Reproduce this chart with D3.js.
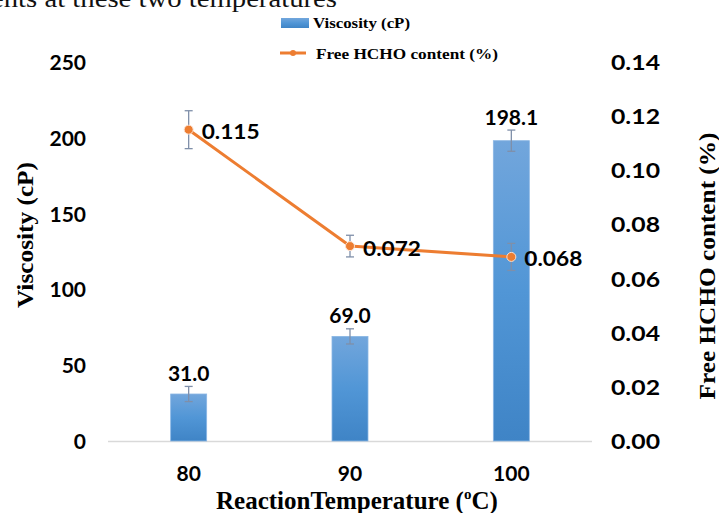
<!DOCTYPE html>
<html>
<head>
<meta charset="utf-8">
<script src="https://cdn.jsdelivr.net/npm/d3@7"></script>
<style>
  html, body { margin: 0; padding: 0; background: #fff; }
  svg { display: block; }
</style>
</head>
<body>
<svg id="chart" width="719" height="513"></svg>
<script>
// ---- data ----
const categories = ["80", "90", "100"];
const viscosity = [31.0, 69.0, 198.1];
const viscosityErr = [5, 5, 7];
const hcho = [0.115, 0.072, 0.068];
const hchoErr = [0.007, 0.004, 0.005];
const leftTicks = [0, 50, 100, 150, 200, 250];
const rightTicks = [0, 0.02, 0.04, 0.06, 0.08, 0.10, 0.12, 0.14];
const seriesNames = ["Viscosity (cP)", "Free HCHO content (%)"];

const svg = d3.select("#chart");
const numFont = "Lato, 'Open Sans', sans-serif";
const serif = "'Liberation Serif', 'DejaVu Serif', serif";

// cropped caption text at top
svg.append("text").attr("x", -9).attr("y", 7)
  .attr("font-family", serif).attr("font-size", 25)
  .attr("textLength", 346).attr("lengthAdjust", "spacingAndGlyphs")
  .attr("fill", "#111").text("ents at these two temperatures");

// gradient
const defs = svg.append("defs");
const grad = defs.append("linearGradient").attr("id", "barGrad")
  .attr("x1", 0).attr("y1", 0).attr("x2", 0).attr("y2", 1);
grad.append("stop").attr("offset", "0%").attr("stop-color", "#72a6dc");
grad.append("stop").attr("offset", "50%").attr("stop-color", "#5196d6");
grad.append("stop").attr("offset", "100%").attr("stop-color", "#3f84c6");

// scales
const x = d3.scaleBand().domain(categories).range([108, 592]).padding(0);
const cx = d => x(d) + x.bandwidth() / 2;
const yL = d3.scaleLinear().domain([0, 250]).range([441, 62]);
const yR = d3.scaleLinear().domain([0, 0.14]).range([441, 62]);
const barW = 36;

// baseline
svg.append("line").attr("x1", 108).attr("x2", 592)
  .attr("y1", yL(0) + 0.5).attr("y2", yL(0) + 0.5)
  .attr("stroke", "#d9d9d9").attr("stroke-width", 1.5);

// left axis
const gL = svg.append("g").attr("transform", "translate(86,0)")
  .call(d3.axisLeft(yL).tickValues(leftTicks).tickSize(0).tickPadding(0).tickFormat(d3.format("d")));
gL.select(".domain").remove();
gL.selectAll("text").attr("font-family", numFont).attr("font-weight", 700)
  .attr("font-size", 21).attr("fill", "#000").attr("dy", "0.36em");

// right axis
const gR = svg.append("g").attr("transform", "translate(611,0)")
  .call(d3.axisRight(yR).tickValues(rightTicks).tickSize(0).tickPadding(0).tickFormat(d3.format(".2f")));
gR.select(".domain").remove();
gR.selectAll("text").attr("font-family", numFont).attr("font-weight", 700)
  .attr("font-size", 21).attr("fill", "#000").attr("dy", "0.36em")
  .attr("textLength", 49).attr("lengthAdjust", "spacingAndGlyphs");

// x axis labels
const gX = svg.append("g").attr("transform", "translate(0,466)")
  .call(d3.axisBottom(x).tickSize(0).tickPadding(0));
gX.select(".domain").remove();
gX.selectAll("text").attr("font-family", numFont).attr("font-weight", 700)
  .attr("font-size", 21).attr("fill", "#000").attr("dy", "0.71em");

// bars
svg.selectAll("rect.bar").data(viscosity).join("rect").attr("class", "bar")
  .attr("x", (d, i) => cx(categories[i]) - barW / 2)
  .attr("y", d => yL(d))
  .attr("width", barW)
  .attr("height", d => yL(0) - yL(d))
  .attr("fill", "url(#barGrad)")
  .attr("stroke", "#8ab6e4").attr("stroke-width", 0.8);

// error bars
const errColor = "#7f8fa9";
function errBar(g, xc, y1, y2) {
  g.append("line").attr("x1", xc).attr("x2", xc).attr("y1", y1).attr("y2", y2)
    .attr("stroke", errColor).attr("stroke-width", 1.3);
  [y1, y2].forEach(yy => g.append("line").attr("x1", xc - 4).attr("x2", xc + 4)
    .attr("y1", yy).attr("y2", yy).attr("stroke", errColor).attr("stroke-width", 1.3));
}
const gErr = svg.append("g");
viscosity.forEach((v, i) => {
  errBar(gErr, cx(categories[i]), yL(v + viscosityErr[i]), yL(v - viscosityErr[i]));
});

// bar labels
svg.selectAll("text.blabel").data(viscosity).join("text").attr("class", "blabel")
  .attr("x", (d, i) => cx(categories[i]))
  .attr("y", (d, i) => yL(d + viscosityErr[i]) - 13)
  .attr("text-anchor", "middle")
  .attr("font-family", numFont).attr("font-weight", 700).attr("font-size", 21)
  .attr("fill", "#000").attr("dy", "0.36em")
  .text(d => d3.format(".1f")(d));

// line
const orange = "#ed7d31";
const line = d3.line().x((d, i) => cx(categories[i])).y(d => yR(d));
svg.append("path").datum(hcho).attr("d", line)
  .attr("fill", "none").attr("stroke", orange).attr("stroke-width", 3)
  .attr("stroke-linejoin", "round");

// line error bars
const gErr2 = svg.append("g");
hcho.forEach((v, i) => {
  errBar(gErr2, cx(categories[i]), yR(v + hchoErr[i]), yR(v - hchoErr[i]));
});

// markers
svg.selectAll("circle.pt").data(hcho).join("circle").attr("class", "pt")
  .attr("cx", (d, i) => cx(categories[i])).attr("cy", d => yR(d)).attr("r", 4.5)
  .attr("fill", orange).attr("stroke", "#fbe0cf").attr("stroke-width", 1);

// line labels
svg.selectAll("text.llabel").data(hcho).join("text").attr("class", "llabel")
  .attr("x", (d, i) => cx(categories[i]) + 13)
  .attr("y", (d, i) => yR(d) + 2)
  .attr("font-family", numFont).attr("font-weight", 700).attr("font-size", 21)
  .attr("fill", "#000").attr("dy", "0.36em")
  .attr("textLength", 58).attr("lengthAdjust", "spacingAndGlyphs")
  .text(d => d3.format(".3f")(d));

// axis titles
svg.append("text").attr("transform", "translate(33,235) rotate(-90)")
  .attr("text-anchor", "middle").attr("font-family", serif).attr("font-weight", 700)
  .attr("font-size", 24).attr("fill", "#000")
  .attr("textLength", 146).attr("lengthAdjust", "spacingAndGlyphs")
  .text("Viscosity (cP)");

svg.append("text").attr("transform", "translate(715,266) rotate(-90)")
  .attr("text-anchor", "middle").attr("font-family", serif).attr("font-weight", 700)
  .attr("font-size", 24).attr("fill", "#000")
  .attr("textLength", 267).attr("lengthAdjust", "spacingAndGlyphs")
  .text("Free HCHO content (%)");

const xt = svg.append("text").attr("x", 216).attr("y", 509)
  .attr("font-family", serif).attr("font-weight", 700)
  .attr("font-size", 25).attr("fill", "#000");
xt.append("tspan").text("ReactionTemperature (");
xt.append("tspan").attr("font-size", 15).attr("dy", -10).text("o");
xt.append("tspan").attr("dy", 10).text("C)");

// legend
svg.append("rect").attr("x", 281).attr("y", 18).attr("width", 28).attr("height", 10)
  .attr("fill", "url(#barGrad)");
svg.append("text").attr("x", 313).attr("y", 28)
  .attr("font-family", serif).attr("font-weight", 700).attr("font-size", 15)
  .attr("fill", "#000").attr("textLength", 97).attr("lengthAdjust", "spacingAndGlyphs")
  .text(seriesNames[0]);
svg.append("line").attr("x1", 280).attr("x2", 306).attr("y1", 53).attr("y2", 53)
  .attr("stroke", orange).attr("stroke-width", 3);
svg.append("circle").attr("cx", 293).attr("cy", 53).attr("r", 3).attr("fill", orange);
svg.append("text").attr("x", 316).attr("y", 59)
  .attr("font-family", serif).attr("font-weight", 700).attr("font-size", 15)
  .attr("fill", "#000").attr("textLength", 182).attr("lengthAdjust", "spacingAndGlyphs")
  .text(seriesNames[1]);
</script>
</body>
</html>
